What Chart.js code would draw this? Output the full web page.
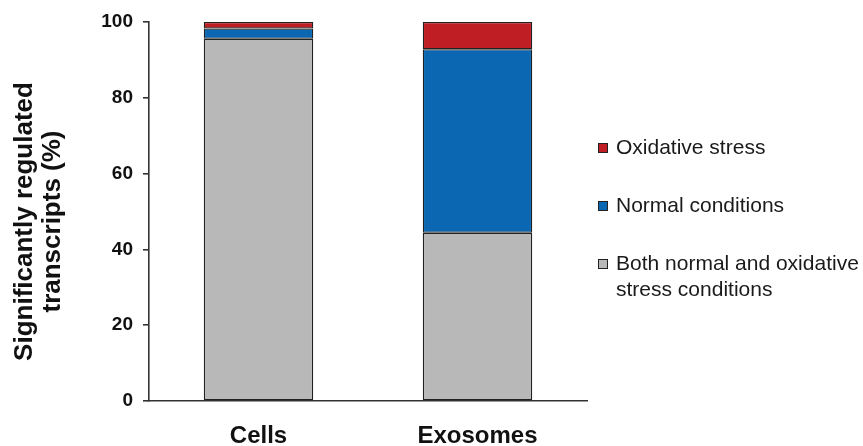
<!DOCTYPE html>
<html>
<head>
<meta charset="utf-8">
<script src="https://cdn.jsdelivr.net/npm/chart.js@4.4.1/dist/chart.umd.min.js"></script>
<style>
  html, body { margin: 0; padding: 0; background: #fff; }
  #wrap { position: relative; width: 863px; height: 446px; }
  #c { position: absolute; left: 0; top: 0; }
  #legend { position: absolute; left: 598px; top: 134px; font-family: "Liberation Sans", Arial, sans-serif; font-size: 21px; color: #1a1a1a; }
  .item { position: relative; padding-left: 18px; line-height: 26px; }
  .sw { position: absolute; left: 0; top: 9px; width: 8px; height: 8px; border: 1px solid #222; }
</style>
</head>
<body>
<div id="wrap">
  <canvas id="c" width="863" height="446"></canvas>
  <div id="legend"></div>
</div>
<script>
const categories = ['Cells', 'Exosomes'];
const bothValues = [95.6, 44.4];
const normalValues = [2.7, 48.4];
const oxidativeValues = [1.7, 7.2];
const yTicks = [0, 20, 40, 60, 80, 100];
const yTitle = ['Significantly regulated', 'transcripts (%)'];
const seriesNames = ['Both normal and oxidative stress conditions', 'Normal conditions', 'Oxidative stress'];
const legendLines = {
  'Oxidative stress': ['Oxidative stress'],
  'Normal conditions': ['Normal conditions'],
  'Both normal and oxidative stress conditions': ['Both normal and oxidative', 'stress conditions']
};
const colors = ['#b8b8b8', '#0b67b2', '#be1e24'];

const FONT = '"Liberation Sans", Arial, sans-serif';

const yTitlePlugin = {
  id: 'yTitle',
  afterDraw(chart) {
    const ctx = chart.ctx;
    const area = chart.chartArea;
    ctx.save();
    ctx.font = 'bold 26px ' + FONT;
    ctx.fillStyle = '#111';
    ctx.textAlign = 'center';
    ctx.textBaseline = 'middle';
    const cy = (area.top + area.bottom) / 2 + 10;
    const xs = [25, 53];
    yTitle.forEach((t, i) => {
      ctx.save();
      ctx.translate(xs[i], cy);
      ctx.rotate(-Math.PI / 2);
      ctx.fillText(t, 0, 0);
      ctx.restore();
    });
    ctx.restore();
  }
};

const datasets = [bothValues, normalValues, oxidativeValues].map((vals, i) => ({
  label: seriesNames[i],
  data: vals,
  backgroundColor: colors[i],
  borderColor: '#222',
  borderWidth: 1.3,
  borderSkipped: false,
  categoryPercentage: 1,
  barPercentage: 0.5
}));

new Chart(document.getElementById('c'), {
  type: 'bar',
  data: { labels: categories, datasets },
  options: {
    responsive: false,
    animation: false,
    layout: { padding: { top: 22, right: 276, left: 0, bottom: 0 } },
    plugins: { legend: { display: false }, tooltip: { enabled: false } },
    scales: {
      x: {
        stacked: true,
        grid: { display: false, drawTicks: false },
        border: { display: true, color: '#333', width: 1.6 },
        ticks: { color: '#111', font: { family: FONT, size: 24, weight: 'bold' }, padding: 21 },
        afterFit(s) { s.height = 45; }
      },
      y: {
        stacked: true,
        min: 0, max: 100,
        afterBuildTicks(s) { s.ticks = yTicks.map(v => ({ value: v })); },
        grid: { drawOnChartArea: false, drawTicks: true, tickLength: 6, color: '#333', lineWidth: 1.6 },
        border: { display: true, color: '#333', width: 1.6 },
        ticks: { color: '#111', font: { family: FONT, size: 19, weight: 'bold' }, padding: 10 },
        afterFit(s) { s.width = 149; }
      }
    }
  },
  plugins: [yTitlePlugin]
});

const legend = document.getElementById('legend');
const order = ['Oxidative stress', 'Normal conditions', 'Both normal and oxidative stress conditions'];
const gaps = [0, 32, 32];
order.forEach((name, i) => {
  const idx = seriesNames.indexOf(name);
  const div = document.createElement('div');
  div.className = 'item';
  div.style.marginTop = gaps[i] + 'px';
  const sw = document.createElement('span');
  sw.className = 'sw';
  sw.style.background = colors[idx];
  div.appendChild(sw);
  legendLines[name].forEach((line, j) => {
    if (j) div.appendChild(document.createElement('br'));
    div.appendChild(document.createTextNode(line));
  });
  legend.appendChild(div);
});
</script>
</body>
</html>
